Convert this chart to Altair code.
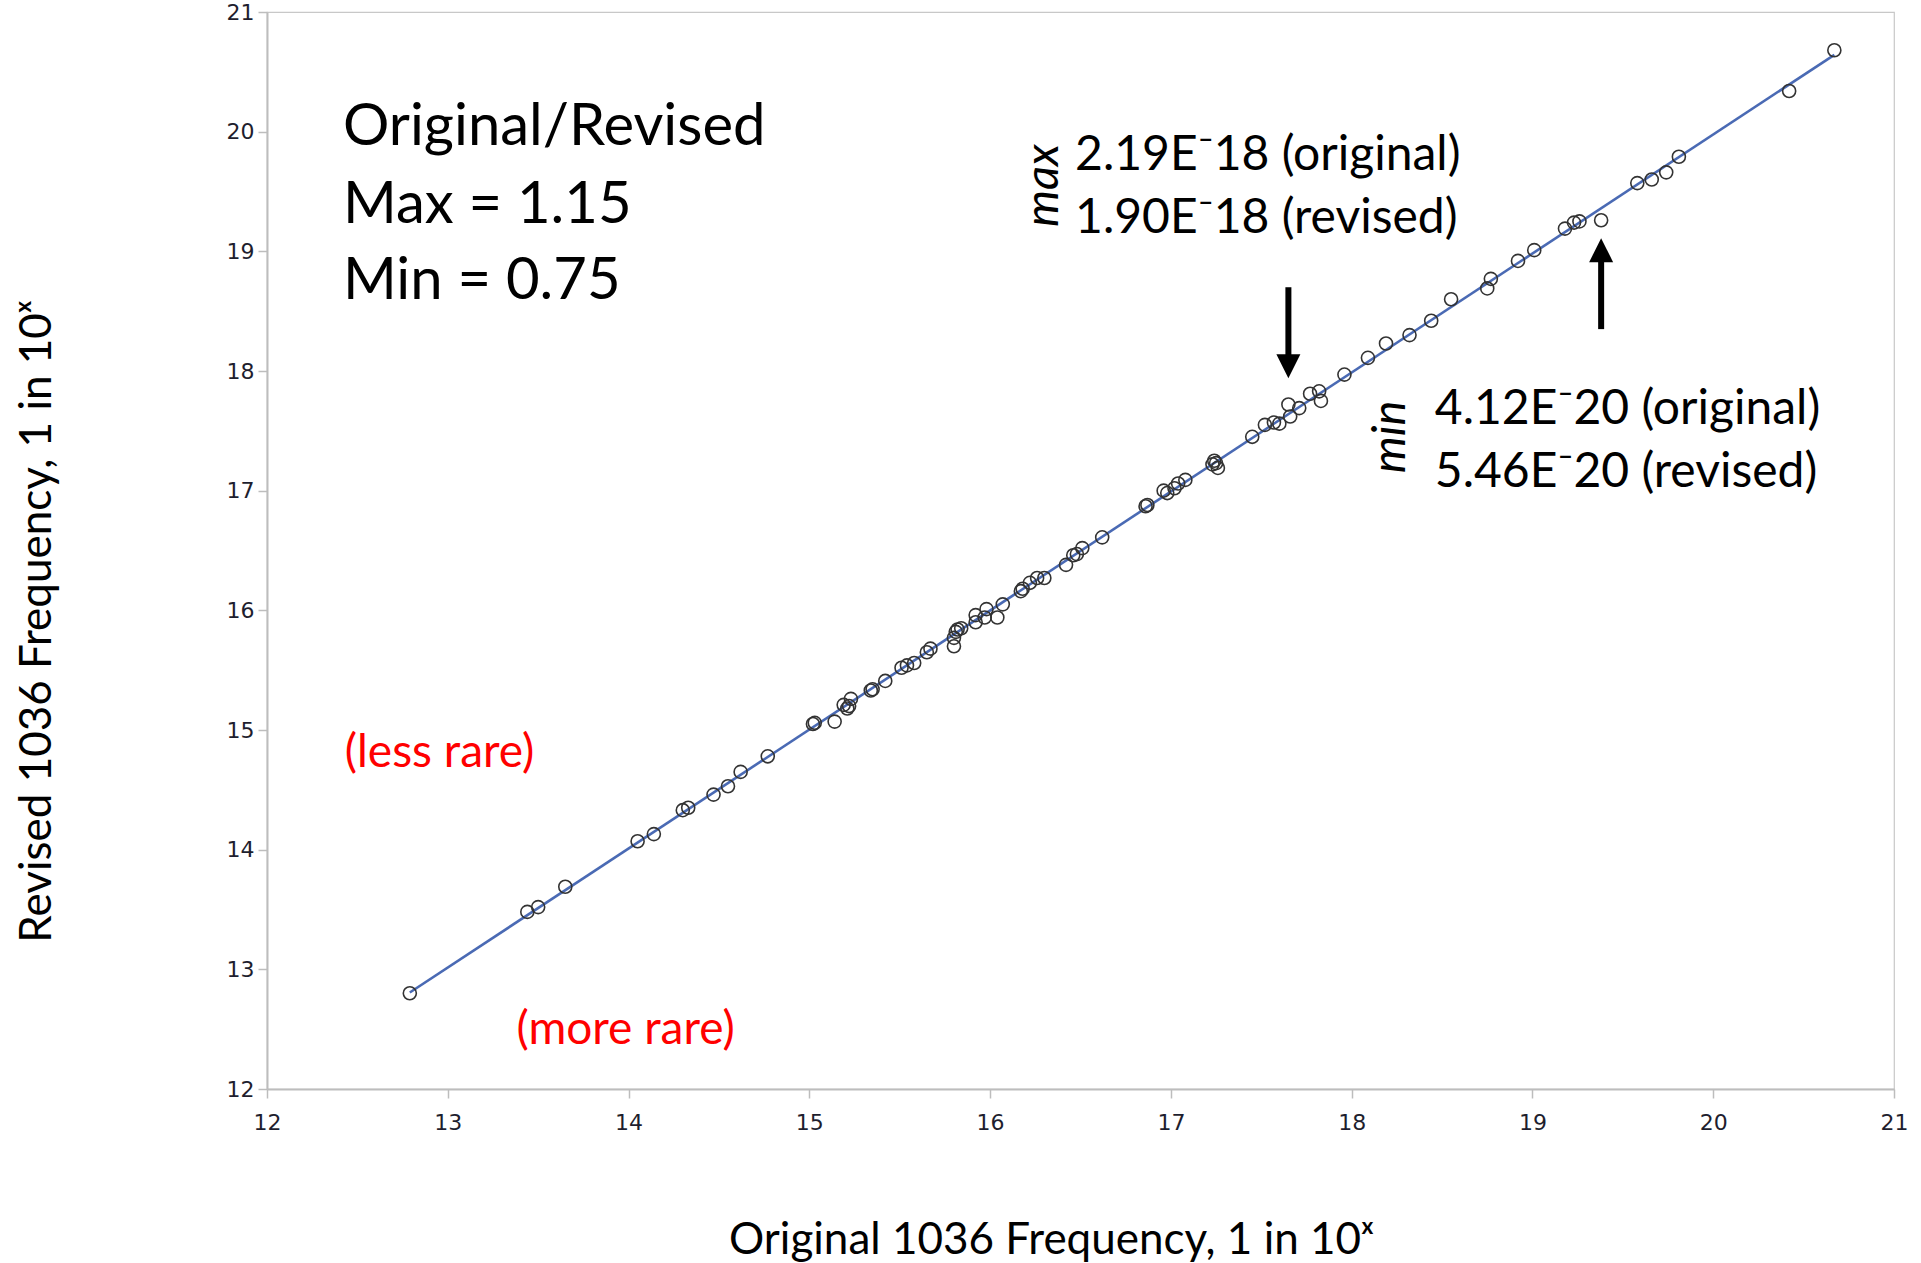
import altair as alt
import pandas as pd

# ---- data ----
orig = [12.79, 13.44, 13.50, 13.65, 14.05, 14.14, 14.30, 14.33, 14.47, 14.55, 14.62, 14.77,
        15.02, 15.03, 15.14, 15.19, 15.22, 15.23, 15.21, 15.34, 15.35, 15.42, 15.51, 15.54,
        15.58, 15.65, 15.67, 15.80, 15.80, 15.81, 15.82, 15.84, 15.92, 15.92, 15.97, 15.98,
        16.04, 16.07, 16.17, 16.18, 16.22, 16.26, 16.30, 16.42, 16.46, 16.48, 16.51, 16.62,
        16.86, 16.87, 16.96, 16.98, 17.02, 17.04, 17.08, 17.23, 17.24, 17.25, 17.26, 17.45,
        17.52, 17.57, 17.60, 17.65, 17.66, 17.71, 17.77, 17.82, 17.83, 17.96, 18.09, 18.19,
        18.32, 18.44, 18.55, 18.75, 18.77, 18.92, 19.01, 19.18, 19.23, 19.26, 19.38, 19.58,
        19.66, 19.74, 19.81, 20.42, 20.67]
revised = [12.80, 13.48, 13.52, 13.69, 14.07, 14.13, 14.33, 14.35, 14.46, 14.53, 14.65, 14.78,
           15.05, 15.06, 15.07, 15.21, 15.20, 15.26, 15.18, 15.33, 15.34, 15.41, 15.52, 15.54,
           15.56, 15.65, 15.68, 15.77, 15.70, 15.82, 15.84, 15.85, 15.90, 15.96, 15.94, 16.01,
           15.94, 16.05, 16.16, 16.18, 16.23, 16.27, 16.27, 16.38, 16.46, 16.47, 16.52, 16.61,
           16.87, 16.88, 17.00, 16.98, 17.02, 17.06, 17.09, 17.22, 17.25, 17.23, 17.19, 17.45,
           17.55, 17.57, 17.56, 17.72, 17.62, 17.69, 17.81, 17.83, 17.75, 17.97, 18.11, 18.23,
           18.30, 18.42, 18.60, 18.69, 18.77, 18.92, 19.01, 19.19, 19.24, 19.25, 19.26, 19.57,
           19.60, 19.66, 19.79, 20.34, 20.68]
assert len(orig) == len(revised)

tick_values = [12, 13, 14, 15, 16, 17, 18, 19, 20, 21]

# summary text block
summary_text = ["Original/Revised", "Max = 1.15", "Min = 0.75"]
summary_x = [12.42, 12.42, 12.42]
summary_y = [19.89, 19.24, 18.60]

# red labels
red_text = ["(less rare)", "(more rare)"]
red_x = [12.43, 13.38]
red_y = [14.69, 12.38]

# max / min value annotations
ann_text = ["2.19E\u207b18 (original)", "1.90E\u207b18 (revised)",
            "4.12E\u207b20 (original)", "5.46E\u207b20 (revised)"]
ann_x = [16.47, 16.47, 18.46, 18.46]
ann_y = [19.68, 19.15, 17.56, 17.03]

# rotated italic labels
rot_text = ["max", "min"]
rot_x = [16.30, 18.22]
rot_y = [19.55, 17.45]

# arrows: x, tail, head base, tip
arrow_x = [17.65, 19.38]
arrow_tail = [18.70, 18.35]
arrow_base = [18.10, 18.93]
arrow_tip = [17.94, 19.11]
arrow_dir = ["down", "up"]

df = pd.DataFrame({"orig": orig, "revised": revised})

xscale = alt.Scale(domain=[12, 21], nice=False, zero=False)
yscale = alt.Scale(domain=[12, 21], nice=False, zero=False)

common_axis = dict(values=tick_values, grid=False, domainColor="#bdbdbd", domainWidth=2,
                   tickColor="#bdbdbd", tickWidth=1.5, tickSize=9,
                   labelFont="DejaVu Sans", labelFontSize=22, labelColor="#1e1e2e",
                   labelFlush=False, labelOverlap=False,
                   titleFont="Lato", titleFontSize=44, titleFontWeight="normal",
                   titleColor="#000000", format="d")

xaxis = alt.Axis(title="Original 1036 Frequency, 1 in 10\u02e3", labelPadding=14,
                 titleX=784, titleY=151, titleBaseline="middle", titleAlign="center",
                 **common_axis)
yaxis = alt.Axis(title="Revised 1036 Frequency, 1 in 10\u02e3", labelPadding=4,
                 titleX=-230, titleY=609, titleAngle=270, titleBaseline="middle",
                 titleAlign="center", **common_axis)

base = alt.Chart(df)

points = base.mark_point(shape="circle", filled=False, stroke="#333333", strokeWidth=1.6,
                         size=170, opacity=1).encode(
    x=alt.X("orig:Q", scale=xscale, axis=xaxis),
    y=alt.Y("revised:Q", scale=yscale, axis=yaxis),
)

fit = base.transform_regression("orig", "revised").mark_line(
    color="#4a6ab4", strokeWidth=2.6).encode(
    x=alt.X("orig:Q", scale=xscale),
    y=alt.Y("revised:Q", scale=yscale),
)

def text_layer(texts, xs, ys, **kw):
    d = pd.DataFrame({"t": texts, "x": xs, "y": ys})
    return alt.Chart(d).mark_text(**kw).encode(
        x=alt.X("x:Q", scale=xscale), y=alt.Y("y:Q", scale=yscale), text="t:N")

summary = text_layer(summary_text, summary_x, summary_y, font="Lato", fontSize=58,
                     align="left", baseline="alphabetic", color="#000000")
reds = text_layer(red_text, red_x, red_y, font="Lato", fontSize=46,
                  align="left", baseline="alphabetic", color="#ff0000")
anns = text_layer(ann_text, ann_x, ann_y, font="Lato", fontSize=48,
                  align="left", baseline="alphabetic", color="#000000")
rots = text_layer(rot_text, rot_x, rot_y, font="Lato", fontSize=47, fontStyle="italic",
                  align="center", baseline="middle", angle=270, color="#000000")

arr = pd.DataFrame({"x": arrow_x, "tail": arrow_tail, "base": arrow_base,
                    "tip": arrow_tip, "dir": arrow_dir})
shafts = alt.Chart(arr).mark_rule(color="#000000", strokeWidth=6, strokeCap="butt").encode(
    x=alt.X("x:Q", scale=xscale), y=alt.Y("tail:Q", scale=yscale), y2="base:Q")
head_down = alt.Chart(arr).transform_filter(alt.datum.dir == "down").mark_point(
    shape="M-1,-2L1,-2L0,0Z", filled=True, fill="#000000", strokeWidth=0, size=576,
    opacity=1).encode(x=alt.X("x:Q", scale=xscale), y=alt.Y("tip:Q", scale=yscale))
head_up = alt.Chart(arr).transform_filter(alt.datum.dir == "up").mark_point(
    shape="M-1,2L1,2L0,0Z", filled=True, fill="#000000", strokeWidth=0, size=576,
    opacity=1).encode(x=alt.X("x:Q", scale=xscale), y=alt.Y("tip:Q", scale=yscale))

chart = alt.layer(fit, points, summary, reds, anns, rots, shafts, head_down, head_up).properties(
    width=1627, height=1077,
    autosize=alt.AutoSizeParams(type="none"),
    padding={"left": 267, "top": 12, "right": 27, "bottom": 174},
    background="#ffffff",
).configure_view(stroke="#c8c8c8", strokeWidth=1.2)

chart.save("out.html", embed_options={"renderer": "svg", "actions": False})
